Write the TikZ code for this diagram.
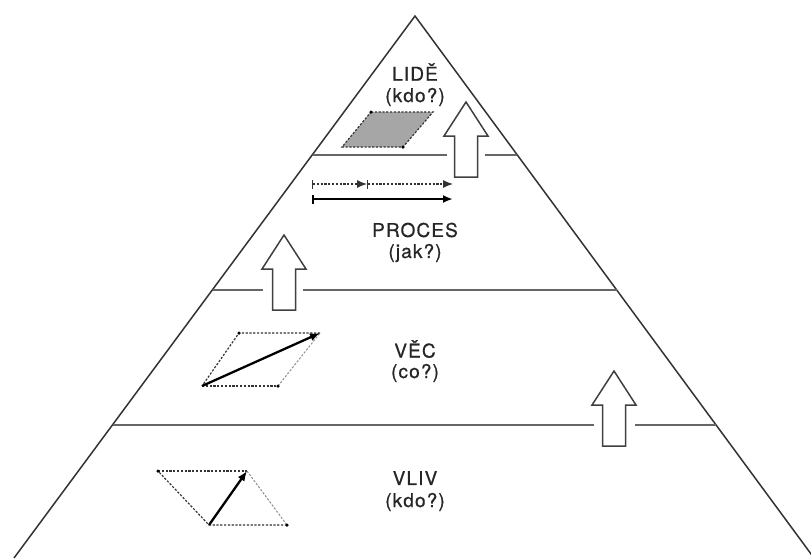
\documentclass[tikz,border=0pt]{standalone}
\usepackage{fontspec}
\setmainfont{TeX Gyre Heros}[LetterSpace=6]
\newfontfamily\lblfont{TeX Gyre Heros}[LetterSpace=6,FakeBold=0.7]
\usetikzlibrary{arrows.meta}
\begin{document}
\begin{tikzpicture}[x=1pt,y=-1pt,
  side/.style={draw=black!80,line width=1.5pt},
  level/.style={draw=black!60,line width=1.4pt},
  lbl/.style={font=\lblfont\fontsize{19}{21}\selectfont,text=black!85,inner sep=0pt,anchor=center},
  dashedge/.style={draw=black!80,line width=1.2pt,dash pattern=on 2.2pt off 1.6pt},
  lightedge/.style={draw=black!45,line width=1pt,dash pattern=on 2.2pt off 1.6pt},
  vec/.style={draw=black,line width=2.3pt,-{Latex[length=10pt,width=8pt]}},
  corner/.style={circle,fill=black,inner sep=0pt,minimum size=3.5pt},
  blockarrow/.pic={
    \draw[draw=black!75,fill=white,line width=1.5pt,line join=miter]
      (0,0) -- (22,34) -- (11.5,34) -- (11.5,75) -- (-11.5,75) -- (-11.5,34) -- (-22,34) -- cycle;
  }]
\useasboundingbox (0,0) rectangle (811,558);
\fill[white] (0,0) rectangle (811,558);
% pyramid
\coordinate (apex) at (415,16);
\coordinate (bl) at (14,558);
\coordinate (br) at (814,558);
\begin{scope}
\clip (0,0) rectangle (811,558);
\draw[side,line join=miter] (bl) -- (apex) -- (br);
\end{scope}
% level lines
\coordinate (l1a) at (313,155); \coordinate (l1b) at (447,155);
\coordinate (l1c) at (485,155); \coordinate (l1d) at (517,155);
\draw[level] (l1a) -- (l1b); \draw[level] (l1c) -- (l1d);
\coordinate (l2a) at (213,290); \coordinate (l2b) at (263,290);
\coordinate (l2c) at (303,290); \coordinate (l2d) at (617,290);
\draw[level] (l2a) -- (l2b); \draw[level] (l2c) -- (l2d);
\coordinate (l3a) at (113,425); \coordinate (l3b) at (594,425);
\coordinate (l3c) at (635,425); \coordinate (l3d) at (716,425);
\draw[level] (l3a) -- (l3b); \draw[level] (l3c) -- (l3d);
% block arrows
\pic at (466,102) {blockarrow};
\pic at (284,235) {blockarrow};
\pic at (614,371) {blockarrow};
% labels
\node[lbl] (lide) at (415,72) {LIDĚ};
\node[lbl] (lidekdo) at (415,97) {(kdo?)};
\node[lbl] (proces) at (415,230) {PROCES};
\node[lbl] (jak) at (415,253) {(jak?)};
\node[lbl] (vec) at (415,349) {VĚC};
\node[lbl] (co) at (415,373) {(co?)};
\node[lbl] (vliv) at (415,478) {VLIV};
\node[lbl] (vlivkdo) at (415,502) {(kdo?)};
% LIDE gray parallelogram
\coordinate (g1) at (371,112); \coordinate (g2) at (433,112);
\coordinate (g3) at (403,147); \coordinate (g4) at (342,147);
\fill[black!35] (g1) -- (g2) -- (g3) -- (g4) -- cycle;
\draw[dashedge] (g1) -- (g2) -- (g3) -- (g4) -- cycle;
\node[corner] (gc1) at (g1) {};
\node[corner] (gc3) at (g3) {};
% PROCES arrows
\coordinate (p1) at (312,184); \coordinate (pm) at (367,184); \coordinate (p2) at (453,184);
\draw[draw=black!80,line width=1.2pt,dash pattern=on 2.2pt off 1.6pt,{Bar[width=9pt]}-{Latex[length=10pt,width=8pt]}] (p1) -- (pm);
\draw[draw=black!80,line width=1.2pt,dash pattern=on 2.2pt off 1.6pt,{Bar[width=9pt]}-{Latex[length=10pt,width=8pt]}] (pm) -- (p2);
\coordinate (q1) at (312,199); \coordinate (q2) at (453,199);
\draw[draw=black,line width=2.3pt,{Bar[width=9pt]}-{Latex[length=10pt,width=8pt]}] (q1) -- (q2);
% VEC parallelogram
\coordinate (v1) at (202,386); \coordinate (v2) at (278,386);
\coordinate (v3) at (320,333); \coordinate (v4) at (239,333);
\draw[dashedge] (v1) -- (v2);
\draw[lightedge] (v2) -- (v3);
\draw[dashedge] (v3) -- (v4) -- (v1);
\node[corner] (vc4) at (v4) {};
\node[corner] (vc2) at (v2) {};
\draw[vec] (v1) -- (v3);
% VLIV parallelogram
\coordinate (w1) at (158,471); \coordinate (w2) at (247,471);
\coordinate (w3) at (287,525); \coordinate (w4) at (209,525);
\draw[dashedge] (w1) -- (w2);
\draw[lightedge] (w2) -- (w3);
\draw[dashedge] (w3) -- (w4) -- (w1);
\node[corner] (wc1) at (w1) {};
\node[corner] (wc3) at (w3) {};
\draw[vec] (w4) -- (w2);
\end{tikzpicture}
\end{document}
